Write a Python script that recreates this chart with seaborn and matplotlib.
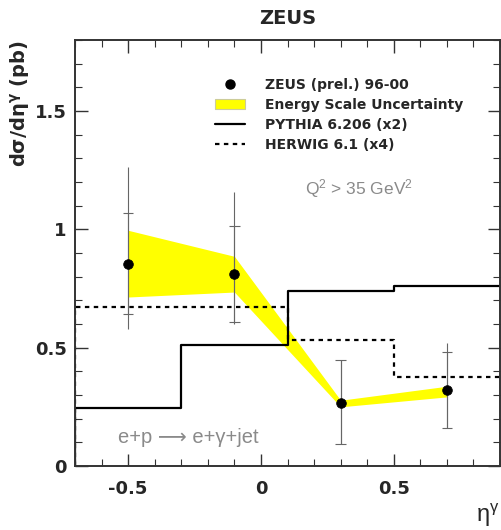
import numpy as np
import pandas as pd
import matplotlib
matplotlib.use("Agg")
import matplotlib.pyplot as plt
import seaborn as sns
from matplotlib.lines import Line2D
from matplotlib.patches import Patch
from matplotlib.ticker import MultipleLocator

# ---- data ----
eta = [-0.5, -0.1, 0.3, 0.7]
xsec = [0.855, 0.81, 0.267, 0.323]
inner_hi = [1.07, 1.013, 0.447, 0.48]
inner_lo = [0.644, 0.609, 0.091, 0.161]
outer_hi = [1.263, 1.157, 0.447, 0.52]
outer_lo = [0.578, 0.60, 0.091, 0.161]
band_hi = [0.996, 0.886, 0.278, 0.337]
band_lo = [0.714, 0.735, 0.25, 0.292]

bin_edges = [-0.7, -0.3, 0.1, 0.5, 0.9]
pythia = [0.246, 0.513, 0.738, 0.759]
herwig = [0.673, 0.673, 0.532, 0.377]

sns.set_theme(style="white")
plt.rcParams['font.family'] = ['DejaVu Sans']
plt.rcParams['mathtext.default'] = 'regular'

fig = plt.figure(figsize=(5.01, 5.30), dpi=100)
ax = fig.add_axes([75/501, 1-466/530, 425/501, 426/530])

df = pd.DataFrame({"eta": eta, "xsec": xsec})

# energy scale band
ax.fill_between(eta, band_lo, band_hi, color="#ffff00", lw=0, zorder=1)

# MC step histograms (start from zero at the left edge)
step_x = [bin_edges[0]] + bin_edges
py_y = [0] + pythia + [pythia[-1]]
hw_y = [0] + herwig + [herwig[-1]]
sns.lineplot(x=step_x, y=py_y, drawstyle="steps-post", color="black", lw=1.6,
             ax=ax, estimator=None, sort=False, zorder=2)
sns.lineplot(x=step_x, y=hw_y, drawstyle="steps-post", color="black", lw=1.6,
             ls=(0, (2, 2)), ax=ax, estimator=None, sort=False, zorder=2)

# error bars
ecol = "#666666"
ax.vlines(eta, outer_lo, outer_hi, color=ecol, lw=0.8, zorder=3)
ax.vlines(eta, inner_lo, inner_hi, color=ecol, lw=0.8, zorder=3)
ax.hlines(inner_hi, [e - 0.02 for e in eta], [e + 0.02 for e in eta], color=ecol, lw=0.8, zorder=3)
ax.hlines(inner_lo, [e - 0.02 for e in eta], [e + 0.02 for e in eta], color=ecol, lw=0.8, zorder=3)

sns.scatterplot(data=df, x="eta", y="xsec", color="black", s=48, edgecolor="black",
                ax=ax, zorder=4)

ax.set_xlim(-0.7, 0.9)
ax.set_ylim(0, 1.8)
ax.set_xticks([-0.5, 0, 0.5])
ax.set_xticklabels(["-0.5", "0", "0.5"])
ax.set_yticks([0, 0.5, 1, 1.5])
ax.set_yticklabels(["0", "0.5", "1", "1.5"])
ax.xaxis.set_minor_locator(MultipleLocator(0.1))
ax.yaxis.set_minor_locator(MultipleLocator(0.1))
ax.tick_params(which="both", direction="in", top=True, right=True, bottom=True, left=True,
               color="#333333")
ax.tick_params(which="major", length=9, width=1.0, labelsize=13)
ax.tick_params(axis="x", which="major", pad=10)
ax.tick_params(axis="y", which="major", pad=6)
ax.tick_params(which="minor", length=5, width=0.8)
for lab in ax.get_xticklabels() + ax.get_yticklabels():
    lab.set_fontweight("bold")
for sp in ax.spines.values():
    sp.set_color("#333333")
    sp.set_linewidth(1.4)
ax.set_xlabel("")
ax.set_ylabel("")

fig.text(288/501, 1-18/530, "ZEUS", ha="center", va="center", fontsize=14, fontweight="bold")
fig.text(20/501, 1-40/530, "dσ/dη$^{γ}$ (pb)", rotation=90, ha="center", va="top",
         fontsize=14, fontweight="bold")
fig.text(500/501, 1-515/530, "η$^{γ}$", ha="right", va="center", fontsize=17,
         family="Liberation Sans")

ax.text(0.542, 0.651, "Q$^{2}$ > 35 GeV$^{2}$", transform=ax.transAxes, fontsize=12.5,
        color="#8a8a8a", ha="left", va="center", family=["Liberation Sans Narrow", "Liberation Sans"])
ax.text(0.1, 0.068, "e+p ⟶ e+γ+jet", transform=ax.transAxes, fontsize=14.5,
        color="#8a8a8a", ha="left", va="center", family=["Liberation Sans Narrow", "Liberation Sans", "DejaVu Sans"])

handles = [
    Line2D([], [], marker="o", color="black", ls="none", markersize=6.5),
    Patch(facecolor="#ffff00", edgecolor="#cccc99", lw=0.8),
    Line2D([], [], color="black", lw=1.6),
    Line2D([], [], color="black", lw=1.6, ls=(0, (2, 2))),
]
labels = ["ZEUS (prel.) 96-00", "Energy Scale Uncertainty", "PYTHIA 6.206 (x2)", "HERWIG 6.1 (x4)"]
leg = ax.legend(handles, labels, loc="upper left", bbox_to_anchor=(0.316, 0.925),
                frameon=False, prop={"weight": "bold", "size": 10}, handlelength=2.2,
                handletextpad=1.4, labelspacing=0.45, borderaxespad=0)

fig.savefig("out.png", dpi=100)
